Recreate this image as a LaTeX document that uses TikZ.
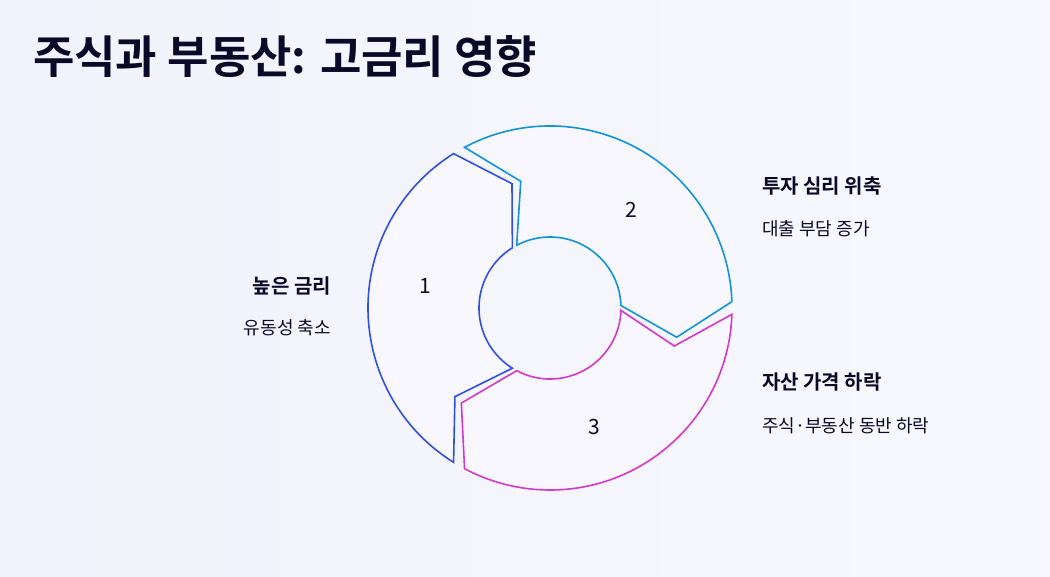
\documentclass[tikz,border=0pt]{standalone}
\usepackage{fontspec}
\setmainfont{Noto Sans CJK KR}
\newfontfamily\krb{Noto Sans CJK KR Bold}
\definecolor{bgc}{HTML}{F2F2FC}
\definecolor{cA}{HTML}{3050E8}
\definecolor{cB}{HTML}{1094E0}
\definecolor{cC}{HTML}{D838C8}
\definecolor{txt}{HTML}{0A0A28}
\tikzset{
 seg/.style={line width=1.6pt, fill=bgc!60!white},
 num/.style={font=\fontsize{21}{21}\selectfont, text=txt},
 head/.style={font=\krb\fontsize{20}{22}\selectfont, text=txt, inner sep=0},
 sub/.style={font=\fontsize{18}{20}\selectfont, text=txt, inner sep=0}
}
\newcommand{\ringseg}[2]{%
 \draw[seg, draw=#2] (#1:182) arc[start angle=#1, end angle=#1-116, radius=182]
 -- (#1-131:130) -- (#1-116:71) arc[start angle=#1-116, end angle=#1, radius=71]
 -- (#1-15:130) -- cycle;}
\begin{document}
\begin{tikzpicture}[x=1pt,y=-1pt]
\shade[left color=bgc, right color=bgc!90!blue!20] (0,0) rectangle (1050,577);
\useasboundingbox (0,0) rectangle (1050,577);
\node[anchor=base west, inner sep=0, font=\krb\fontsize{45}{48}\selectfont, text=txt] (title) at (33,74) {주식과 부동산: 고금리 영향};
\begin{scope}[shift={(550,308)}, y=1pt]
\ringseg{-122}{cA}
\ringseg{118}{cB}
\ringseg{-2}{cC}
\end{scope}
\node[num] (n1) at (425,286) {1};
\node[num] (n2) at (631,210) {2};
\node[num] (n3) at (594,427) {3};
\node[head, anchor=base east] (l1) at (331,294) {높은 금리};
\node[sub, anchor=base east] (s1) at (331,335) {유동성 축소};
\node[head, anchor=base west] (l2) at (762,194) {투자 심리 위축};
\node[sub, anchor=base west] (s2) at (762,236) {대출 부담 증가};
\node[head, anchor=base west] (l3) at (762,390) {자산 가격 하락};
\node[sub, anchor=base west] (s3) at (762,432) {주식·부동산 동반 하락};
\end{tikzpicture}
\end{document}
